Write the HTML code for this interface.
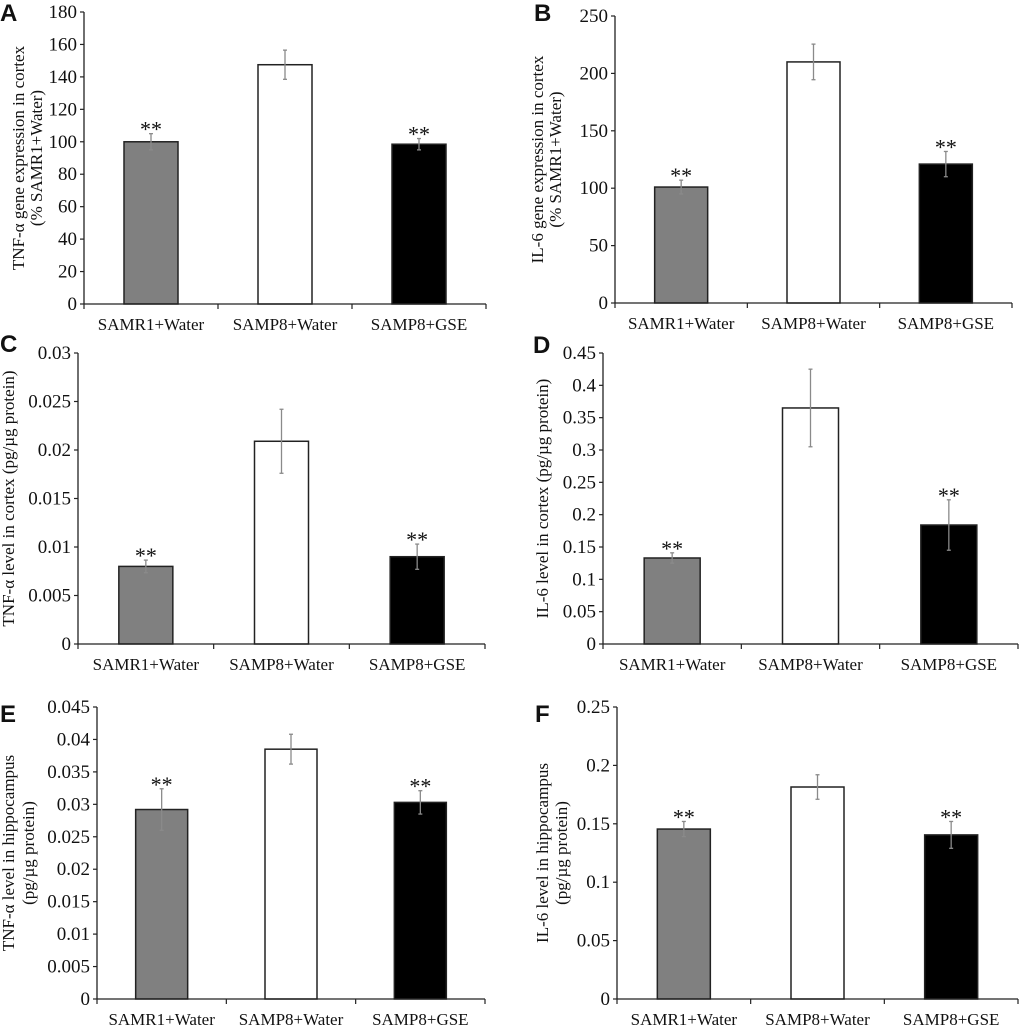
<!DOCTYPE html>
<html><head><meta charset="utf-8"><style>
body{margin:0;background:#fff;width:1020px;height:1025px;overflow:hidden}
svg{display:block}
text{font-family:"Liberation Serif",serif;fill:#111}
.lab{font-family:"Liberation Sans",sans-serif;font-weight:bold;font-size:24px}
</style></head><body>
<svg id="fig" width="1020" height="1025" viewBox="0 0 1020 1025"></svg>
<script>
const categories = ["SAMR1+Water","SAMP8+Water","SAMP8+GSE"];
const valuesA = [100, 147.5, 98.5];
const errA = [5, 9, 3.5];
const sigA = [true, false, true];
const valuesB = [101, 210, 121];
const errB = [6, 15.5, 11];
const sigB = [true, false, true];
const valuesC = [0.008, 0.0209, 0.009];
const errC = [0.00065, 0.0033, 0.0013];
const sigC = [true, false, true];
const valuesD = [0.133, 0.365, 0.184];
const errD = [0.008, 0.06, 0.039];
const sigD = [true, false, true];
const valuesE = [0.0292, 0.0385, 0.0303];
const errE = [0.0032, 0.0023, 0.0018];
const sigE = [true, false, true];
const valuesF = [0.1455, 0.1815, 0.1405];
const errF = [0.0065, 0.0105, 0.0115];
const sigF = [true, false, true];
const ticksA = ["0","20","40","60","80","100","120","140","160","180"];
const ticksB = ["0","50","100","150","200","250"];
const ticksC = ["0","0.005","0.01","0.015","0.02","0.025","0.03"];
const ticksD = ["0","0.05","0.1","0.15","0.2","0.25","0.3","0.35","0.4","0.45"];
const ticksE = ["0","0.005","0.01","0.015","0.02","0.025","0.03","0.035","0.04","0.045"];
const ticksF = ["0","0.05","0.1","0.15","0.2","0.25"];

const NS="http://www.w3.org/2000/svg";
const svg=document.getElementById('fig');
function mk(tag,attrs,parent,txt){const e=document.createElementNS(NS,tag);for(const k in attrs)e.setAttribute(k,attrs[k]);if(txt!==undefined)e.textContent=txt;(parent||svg).appendChild(e);return e;}
const fills=["#808080","#ffffff","#000000"];

function panel(p){
  const g=mk('g',{});
  
  
  const ymax=parseFloat(p.ticks[p.ticks.length-1]);
  const y=v=>p.y0-(v/ymax)*(p.y0-p.y1);
  const cw=(p.xe-p.x0)/3;
  const lab=mk('text',{x:p.lx,y:p.ly,class:'lab'},g,p.id);
  
  
  p.ticks.forEach(t=>{
    const v=parseFloat(t),yy=y(v);
    mk('line',{x1:p.x0-4,x2:p.x0,y1:yy,y2:yy,stroke:'#222','stroke-width':1.2},g);
    const tl=mk('text',{x:p.x0-7,y:yy+6,'text-anchor':'end','font-size':19},g,t);
    
    
  });
  categories.forEach((c,i)=>{
    const cx=p.x0+cw*(i+0.5),v=p.vals[i],e=p.err[i];
    const b=mk('rect',{x:cx-p.bw/2,y:y(v),width:p.bw,height:p.y0-y(v),fill:fills[i],stroke:'#222','stroke-width':1.5},g);
    
    
    const eb=mk('g',{stroke:'#8a8a8a','stroke-width':1.3},g);
    
    
    mk('line',{x1:cx,x2:cx,y1:y(v+e),y2:y(v-e)},eb);
    mk('line',{x1:cx-2,x2:cx+2,y1:y(v+e),y2:y(v+e)},eb);
    mk('line',{x1:cx-2,x2:cx+2,y1:y(v-e),y2:y(v-e)},eb);
    if(p.sig[i]){const s=mk('text',{x:cx,y:y(v+e)+3,'text-anchor':'middle','font-size':22},g,'**');
      
      }
    const cl=mk('text',{x:cx,y:p.y0+26,'text-anchor':'middle','font-size':17},g,c);
    
    
  });
  mk('line',{x1:p.x0,x2:p.x0,y1:p.y1,y2:p.y0,stroke:'#222','stroke-width':1.3},g);
  mk('line',{x1:p.x0,x2:p.xe,y1:p.y0,y2:p.y0,stroke:'#222','stroke-width':1.3},g);
  for(let i=0;i<=3;i++){const xx=p.x0+cw*i;mk('line',{x1:xx,x2:xx,y1:p.y0,y2:p.y0+5,stroke:'#222','stroke-width':1.2},g);}
  const cy=(p.y0+p.y1)/2;
  p.title.forEach((t,j)=>{
    const tx=p.tx[j];
    const tt=mk('text',{x:tx,y:cy,'text-anchor':'middle','font-size':17,transform:`rotate(-90 ${tx} ${cy})`},g,t);
    
    
  });
}
panel({id:'A',x0:84,xe:486,y0:304,y1:12,bw:54,vals:valuesA,err:errA,sig:sigA,ticks:ticksA,lx:0,ly:21,
  title:["TNF-α gene expression in cortex","(% SAMR1+Water)"],tx:[24,42]});
panel({id:'B',x0:615,xe:1012,y0:303,y1:16,bw:53,vals:valuesB,err:errB,sig:sigB,ticks:ticksB,lx:534,ly:21,
  title:["IL-6 gene expression in cortex","(% SAMR1+Water)"],tx:[543,561]});
panel({id:'C',x0:78,xe:485,y0:644,y1:353,bw:54,vals:valuesC,err:errC,sig:sigC,ticks:ticksC,lx:0,ly:352,
  title:["TNF-α level in cortex (pg/µg protein)"],tx:[14]});
panel({id:'D',x0:603,xe:1018,y0:644,y1:353,bw:56,vals:valuesD,err:errD,sig:sigD,ticks:ticksD,lx:533,ly:353,
  title:["IL-6 level in cortex (pg/µg protein)"],tx:[548]});
panel({id:'E',x0:97,xe:485,y0:999,y1:707,bw:52,vals:valuesE,err:errE,sig:sigE,ticks:ticksE,lx:0,ly:722,
  title:["TNF-α level in hippocampus","(pg/µg protein)"],tx:[14,34]});
panel({id:'F',x0:617,xe:1018,y0:999,y1:707,bw:53,vals:valuesF,err:errF,sig:sigF,ticks:ticksF,lx:535,ly:722,
  title:["IL-6 level in hippocampus","(pg/µg protein)"],tx:[548,567]});
</script>
</body></html>
